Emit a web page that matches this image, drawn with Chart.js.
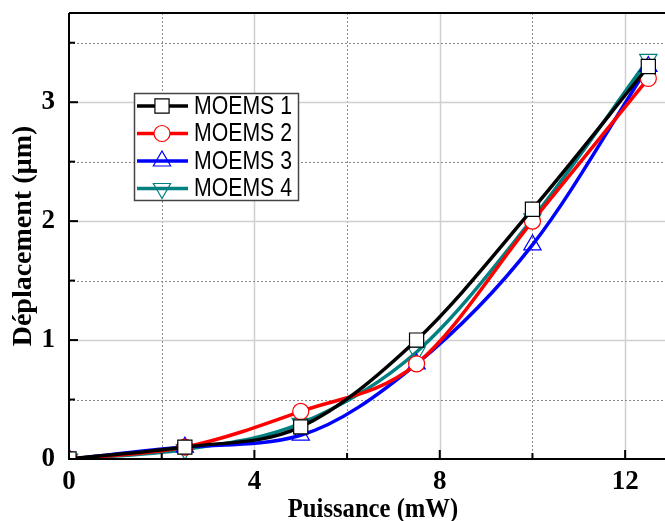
<!DOCTYPE html>
<html>
<head>
  <meta charset="utf-8">
  <script src="https://cdn.jsdelivr.net/npm/chart.js"></script>
  <style>
    html, body { margin: 0; padding: 0; background: white; overflow: hidden; }
  </style>
</head>
<body>
  <canvas id="chart" width="665" height="521"></canvas>
  <script>
    // power (mW)
    const puissance = [0, 2.5, 5, 7.5, 10, 12.5];
    // displacement (µm) per device
    const moems1 = [0, 0.1, 0.27, 1.0, 2.1, 3.3];
    const moems2 = [0, 0.1, 0.4, 0.8, 2.0, 3.2];
    const moems3 = [0, 0.1, 0.2, 0.8, 1.8, 3.3];
    const moems4 = [0, 0.08, 0.3, 0.9, 2.02, 3.36];
    const xTicks = [0, 2, 4, 6, 8, 10, 12];
    const yTicks = [0, 0.5, 1, 1.5, 2, 2.5, 3, 3.5];
    const xTitle = 'Puissance (mW)';
    const yTitle = 'D\u00e9placement (\u00b5m)';

    const pts = ys => puissance.map((x, i) => ({ x: x, y: ys[i] }));

    function series(label, ys, color, style, rot, fill, r) {
      return {
        label: label,
        data: pts(ys),
        borderColor: color,
        borderWidth: 3.5,
        pointStyle: style,
        pointRotation: rot,
        pointRadius: r,
        pointBorderWidth: 1.2,
        pointBackgroundColor: fill,
        pointBorderColor: color,
        cubicInterpolationMode: 'monotone',
        clip: 0
      };
    }

    const serif = '"Liberation Serif", "Times New Roman", serif';

    // grid lines, inward ticks, frame and axis titles
    const frame = {
      id: 'frame',
      beforeDatasetsDraw(chart) {
        const ctx = chart.ctx, a = chart.chartArea;
        const xs = chart.scales.x, ys = chart.scales.y;
        ctx.save();
        xTicks.forEach(v => {
          if (v === 0) return;
          const px = Math.round(xs.getPixelForValue(v)) + 0.5;
          ctx.beginPath();
          if (v % 4 === 0) { ctx.strokeStyle = '#cfcfcf'; ctx.lineWidth = 1.5; ctx.setLineDash([]); }
          else { ctx.strokeStyle = '#8a8a8a'; ctx.lineWidth = 1; ctx.setLineDash([2, 2]); }
          ctx.moveTo(px, a.top); ctx.lineTo(px, a.bottom);
          ctx.stroke();
        });
        yTicks.forEach(v => {
          if (v === 0) return;
          const py = Math.round(ys.getPixelForValue(v)) + 0.5;
          ctx.beginPath();
          if (v % 1 === 0) { ctx.strokeStyle = '#cfcfcf'; ctx.lineWidth = 1.5; ctx.setLineDash([]); }
          else { ctx.strokeStyle = '#8a8a8a'; ctx.lineWidth = 1; ctx.setLineDash([2, 2]); }
          ctx.moveTo(a.left, py); ctx.lineTo(a.right, py);
          ctx.stroke();
        });
        ctx.restore();
      },
      afterDatasetsDraw(chart) {
        const ctx = chart.ctx, a = chart.chartArea;
        const xs = chart.scales.x, ys = chart.scales.y;
        ctx.save();
        ctx.strokeStyle = '#000';
        ctx.lineWidth = 2;
        ctx.setLineDash([]);
        xTicks.forEach(v => {
          const px = xs.getPixelForValue(v);
          const len = v % 4 === 0 ? 9 : 6;
          ctx.beginPath(); ctx.moveTo(px, a.bottom); ctx.lineTo(px, a.bottom - len); ctx.stroke();
        });
        yTicks.forEach(v => {
          const py = ys.getPixelForValue(v);
          const len = v % 1 === 0 ? 9 : 6;
          ctx.beginPath(); ctx.moveTo(a.left, py); ctx.lineTo(a.left + len, py); ctx.stroke();
        });
        ctx.beginPath(); ctx.moveTo(a.left, a.top); ctx.lineTo(a.right, a.top); ctx.stroke();
        ctx.beginPath(); ctx.moveTo(a.left, a.top); ctx.lineTo(a.left, a.bottom); ctx.lineTo(a.right, a.bottom); ctx.stroke();

        // axis titles (slightly condensed like the original)
        ctx.fillStyle = '#000';
        ctx.font = 'bold 28px ' + serif;
        ctx.textAlign = 'center';
        ctx.textBaseline = 'middle';
        ctx.save();
        ctx.translate(373, 510);
        ctx.scale(0.88, 1);
        ctx.fillText(xTitle, 0, 0);
        ctx.restore();
        ctx.save();
        ctx.translate(24, 236);
        ctx.rotate(-Math.PI / 2);
        ctx.scale(1.0, 1);
        ctx.fillText(yTitle, 0, 0);
        ctx.restore();
        ctx.restore();
      }
    };

    // legend box drawn inside the plot
    const boxLegend = {
      id: 'boxLegend',
      afterDraw(chart) {
        const ctx = chart.ctx;
        const bx = 134, by = 93, bw = 164, bh = 107;
        ctx.save();
        ctx.fillStyle = '#fff';
        ctx.fillRect(bx, by, bw, bh);
        ctx.strokeStyle = '#444';
        ctx.lineWidth = 1.5;
        ctx.strokeRect(bx + 0.5, by + 0.5, bw, bh);
        chart.data.datasets.forEach((ds, i) => {
          const cy = by + 13 + i * 27.5;
          ctx.strokeStyle = ds.borderColor;
          ctx.lineWidth = 3.5;
          ctx.beginPath(); ctx.moveTo(137, cy); ctx.lineTo(188, cy); ctx.stroke();
          ctx.fillStyle = ds.pointBackgroundColor;
          ctx.strokeStyle = ds.pointBorderColor;
          ctx.lineWidth = ds.pointBorderWidth;
          Chart.helpers.drawPoint(ctx, {
            pointStyle: ds.pointStyle,
            rotation: ds.pointRotation,
            radius: ds.pointRadius,
            borderWidth: ds.pointBorderWidth
          }, 162, cy);
          ctx.fillStyle = '#000';
          ctx.font = '25px "Liberation Sans", Arial, sans-serif';
          ctx.textBaseline = 'middle';
          ctx.textAlign = 'left';
          ctx.save();
          ctx.translate(194, cy + 1);
          ctx.scale(0.85, 1);
          ctx.fillText(ds.label, 0, 0);
          ctx.restore();
        });
        ctx.restore();
      }
    };

    const tickFont = { family: serif, size: 27, weight: 'bold' };

    new Chart(document.getElementById('chart'), {
      type: 'line',
      data: {
        datasets: [
          series('MOEMS 1', moems1, '#000000', 'rect', 0, '#ffffff', 10),
          series('MOEMS 2', moems2, '#ff0000', 'circle', 0, '#ffffff', 8),
          series('MOEMS 3', moems3, '#0000ff', 'triangle', 0, 'rgba(0,0,0,0)', 10),
          series('MOEMS 4', moems4, '#008080', 'triangle', 180, 'rgba(0,0,0,0)', 10)
        ]
      },
      options: {
        responsive: false,
        animation: false,
        layout: { autoPadding: false, padding: { top: 13, right: 0, left: 0, bottom: 0 } },
        plugins: { legend: { display: false }, tooltip: { enabled: false } },
        scales: {
          x: {
            type: 'linear',
            min: 0,
            max: 12.86,
            afterBuildTicks: s => { s.ticks = xTicks.map(v => ({ value: v })); },
            afterFit: s => { s.height = 62; s.paddingLeft = 0; s.paddingRight = 0; },
            grid: { display: false, drawTicks: false },
            border: { display: false },
            ticks: {
              color: '#000',
              font: tickFont,
              padding: 7,
              maxRotation: 0,
              callback: v => (v % 4 === 0 ? v : '')
            }
          },
          y: {
            type: 'linear',
            min: 0,
            max: 3.75,
            afterBuildTicks: s => { s.ticks = yTicks.map(v => ({ value: v })); },
            afterFit: s => { s.width = 69; s.paddingTop = 0; s.paddingBottom = 0; },
            grid: { display: false, drawTicks: false },
            border: { display: false },
            ticks: {
              color: '#000',
              font: tickFont,
              padding: 14,
              callback: v => (v % 1 === 0 ? v : '')
            }
          }
        }
      },
      plugins: [frame, boxLegend]
    });
  </script>
</body>
</html>
